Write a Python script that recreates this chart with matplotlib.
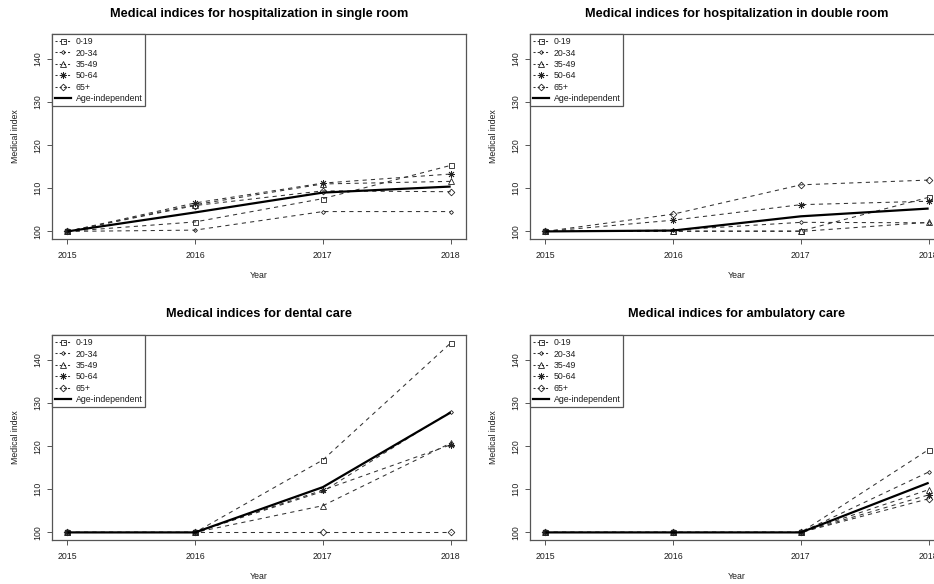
"""Medical indices by age group, 2015-2018, four care categories in a 2x2 grid."""
import matplotlib
matplotlib.use("Agg")
import matplotlib.pyplot as plt
from matplotlib.lines import Line2D

plt.rcParams["font.family"] = ["Liberation Sans", "DejaVu Sans"]

YEARS = [2015, 2016, 2017, 2018]
GROUPS = ["0-19", "20-34", "35-49", "50-64", "65+"]
OVERALL_LABEL = "Age-independent"

# index values per age group (rows follow GROUPS), plus the age-independent line
single_room = [
    [100, 102.2, 107.6, 115.3],
    [100, 100.3, 104.6, 104.6],
    [100, 106.2, 111.0, 111.6],
    [100, 106.6, 111.2, 113.3],
    [100, 106.0, 109.4, 109.2],
]
single_room_all = [100, 104.4, 109.0, 110.4]

double_room = [
    [100, 100.1, 100.1, 107.9],
    [100, 100.3, 102.1, 102.0],
    [100, 100.0, 100.0, 102.1],
    [100, 102.6, 106.2, 107.0],
    [100, 104.0, 110.8, 111.9],
]
double_room_all = [100, 100.2, 103.5, 105.3]

dental = [
    [100, 100, 116.8, 143.9],
    [100, 100, 109.5, 128.0],
    [100, 100, 106.2, 120.7],
    [100, 100, 109.8, 120.3],
    [100, 100, 100.0, 100.0],
]
dental_all = [100, 100, 110.5, 127.8]

ambulatory = [
    [100, 100, 100, 119.2],
    [100, 100, 100, 114.0],
    [100, 100, 100, 109.9],
    [100, 100, 100, 108.7],
    [100, 100, 100, 107.8],
]
ambulatory_all = [100, 100, 100, 111.5]

TITLES = [
    "Medical indices for hospitalization in single room",
    "Medical indices for hospitalization in double room",
    "Medical indices for dental care",
    "Medical indices for ambulatory care",
]
PANELS = [(single_room, single_room_all), (double_room, double_room_all),
          (dental, dental_all), (ambulatory, ambulatory_all)]

YTICKS = [100, 110, 120, 130, 140]
YLIM = (100, 144)

# R-like point symbols: square, small diamond, triangle, asterisk, diamond
MARKERS = [
    dict(marker="s", ms=3.6),
    dict(marker="D", ms=2.0),
    dict(marker="^", ms=3.8),
    dict(marker=(8, 2, 0), ms=5.0),
    dict(marker="D", ms=3.4),
]
DASH_COLOR = "#333333"
FRAME_COLOR = "#555555"
TEXT_COLOR = "#1e1e1e"

W, H = 934, 584
fig = plt.figure(figsize=(W / 100, H / 100), dpi=100)

# axes boxes in pixels (left, top); the right column runs past the edge
BOX_W, BOX_H = 414, 205
boxes = [(52, 34), (530, 34), (52, 335), (530, 335)]


def pad(lo, hi, frac=0.04):
    d = (hi - lo) * frac
    return lo - d, hi + d


for (left, top), title, (series, overall) in zip(boxes, TITLES, PANELS):
    ax = fig.add_axes([left / W, 1 - (top + BOX_H) / H, BOX_W / W, BOX_H / H])
    for vals, mk in zip(series, MARKERS):
        ax.plot(YEARS, vals, color=DASH_COLOR, lw=0.75, dashes=(4, 4),
                mfc="none", mec="#222222", mew=0.6, **mk)
    ax.plot(YEARS, overall, color="black", lw=1.6, solid_capstyle="butt")

    ax.set_xlim(*pad(YEARS[0], YEARS[-1]))
    ax.set_ylim(*pad(*YLIM))
    ax.set_xticks(YEARS)
    ax.set_xticklabels([str(y) for y in YEARS])
    ax.set_yticks(YTICKS)
    ax.set_yticklabels([str(v) for v in YTICKS], rotation=90, va="center")
    ax.tick_params(axis="both", length=3.6, width=0.7, color=FRAME_COLOR,
                   labelsize=6.3, labelcolor=TEXT_COLOR)
    ax.tick_params(axis="x", pad=5.0)
    ax.tick_params(axis="y", pad=3.5)
    for sp in ax.spines.values():
        sp.set_color(FRAME_COLOR)
        sp.set_linewidth(0.9)

    ax.text(0.5, 1.10, title, transform=ax.transAxes, ha="center", va="center",
            fontsize=9.2, fontweight="bold", color="black")
    ax.text(0.5, -0.18, "Year", transform=ax.transAxes, ha="center",
            va="center", fontsize=6.3, color=TEXT_COLOR)
    ax.text(-0.087, 0.5, "Medical index", transform=ax.transAxes, ha="center",
            va="center", rotation=90, fontsize=6.3, color=TEXT_COLOR)

    handles = [Line2D([], [], color=DASH_COLOR, lw=0.75, dashes=(2, 2),
                      mfc="none", mec="#222222", mew=0.6, **mk) for mk in MARKERS]
    handles.append(Line2D([], [], color="black", lw=1.6))
    leg = ax.legend(handles, GROUPS + [OVERALL_LABEL], loc="upper left",
                    bbox_to_anchor=(0, 1), borderaxespad=0, fontsize=6.3,
                    frameon=True, fancybox=False, framealpha=1,
                    edgecolor=FRAME_COLOR, handlelength=1.8, handletextpad=0.55,
                    labelspacing=0.28, borderpad=0.35,
                    labelcolor=TEXT_COLOR)
    leg.get_frame().set_linewidth(0.9)

fig.savefig("out.png", dpi=100)
